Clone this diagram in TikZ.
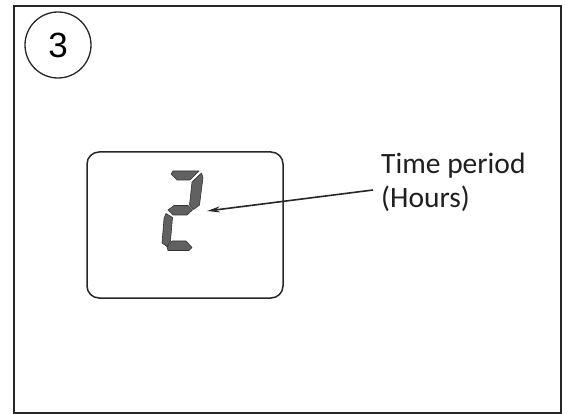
\documentclass[tikz,border=0pt]{standalone}
\usepackage{fontspec}
\setmainfont{Carlito}
\newfontfamily\arialfont{Liberation Sans}
\usetikzlibrary{arrows.meta}
\begin{document}
\begin{tikzpicture}[x=1pt,y=-1pt,
  frame/.style={draw=black!85, line width=2.5pt},
  badge/.style={draw=black!85, line width=1.3pt, circle, minimum size=66pt, inner sep=0pt, font=\arialfont\fontsize{35}{35}\selectfont},
  lcd/.style={draw=black!85, line width=1.5pt, rounded corners=12pt},
  seg/.style={fill=black!62, draw=black!80, line width=0.6pt, line join=round},
  label/.style={font=\fontsize{29.5}{35}\selectfont, align=left, inner sep=0pt, text=black!88},
  pointer/.style={draw=black!85, line width=1.6pt, -{Stealth[length=13pt,width=6pt]}}]
\useasboundingbox (0,0) rectangle (565,414);
\node[frame, draw, minimum width=547pt, minimum height=407pt, inner sep=0pt, anchor=north west] (outer) at (12.5,5) {};
\node[badge] (num) at (58,45) {3};
\draw[lcd] (87,152) rectangle (283,298);
% digit 2 segments
\draw[seg] (173,171) -- (199,171) -- (190,180) -- (177,180) -- (171,174) -- cycle;
\draw[seg] (201.5,173) -- (203,177.5) -- (199.5,205) -- (193.5,209.5) -- (189.5,205) -- (192,182) -- cycle;
\draw[seg] (168,210) -- (174,205.5) -- (188,205.5) -- (192.5,210) -- (187,215) -- (173,215) -- cycle;
\draw[seg] (166,213.5) -- (172.5,217.5) -- (170.5,241) -- (167,246.5) -- (162,243) -- (164,218.5) -- cycle;
\draw[seg] (172,241) -- (186,241) -- (192,247.5) -- (189,250.5) -- (168,250.5) -- (167,247) -- cycle;
\node[label, anchor=base west] (lab) at (381,208) {Time period\\(Hours)};
\coordinate (from) at (373,190);
\coordinate (tip) at (207,211);
\draw[pointer] (from) -- (tip);
\end{tikzpicture}
\end{document}
